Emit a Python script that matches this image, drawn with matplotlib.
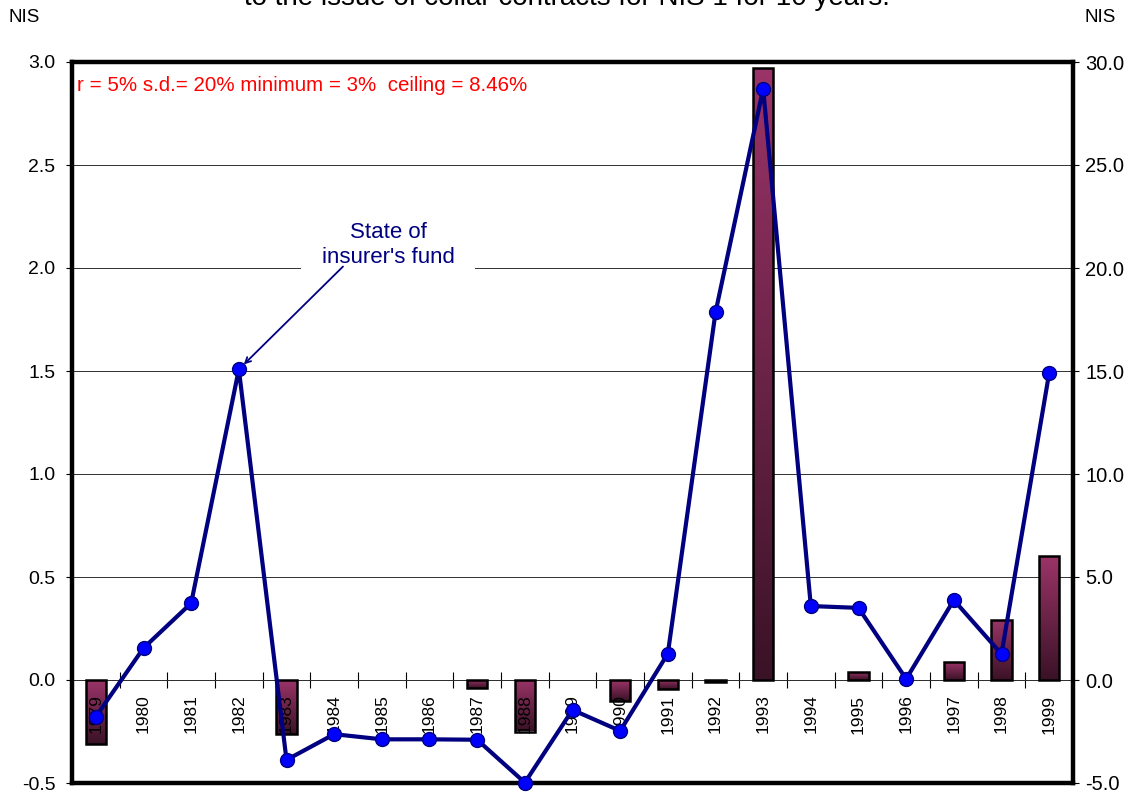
import numpy as np
import matplotlib
matplotlib.use('Agg')
import matplotlib.pyplot as plt
from matplotlib.colors import LinearSegmentedColormap
from matplotlib.ticker import FormatStrFormatter

plt.rcParams['font.family'] = ['Liberation Sans', 'DejaVu Sans']

years = [str(y) for y in range(1979, 2000)]
# yearly result, left axis (NIS)
bar_vals = [-0.31, 0, 0, 0, -0.26, 0, 0, 0, -0.04, -0.25, 0, -0.10, -0.045,
            -0.01, 2.97, 0, 0.04, 0, 0.085, 0.29, 0.60]
# state of insurer's fund, right axis (NIS)
fund = [-1.78, 1.55, 3.73, 15.08, -3.88, -2.63, -2.88, -2.88, -2.90, -4.98,
        -1.45, -2.47, 1.28, 17.84, 28.7, 3.59, 3.5, 0.05, 3.88, 1.26, 14.9]

x = np.arange(len(years))

fig = plt.figure(figsize=(11.34, 7.95), dpi=100)
ax = fig.add_axes([72 / 1134, 12 / 795, 1001 / 1134, 721 / 795])
ax2 = ax.twinx()

# bars with a vertical maroon gradient
cmap = LinearSegmentedColormap.from_list('maroon', ['#3a1226', '#9b3468'])
grad = np.linspace(0, 1, 256).reshape(-1, 1)
bars = ax.bar(x, bar_vals, width=0.42, facecolor='none', edgecolor='black',
              linewidth=1.8, zorder=3)
for b in bars:
    h = b.get_height()
    if h == 0:
        b.set_visible(False)
        continue
    lo, hi = min(b.get_y(), b.get_y() + h), max(b.get_y(), b.get_y() + h)
    im = ax.imshow(grad, cmap=cmap, aspect='auto', origin='lower',
                   extent=[b.get_x(), b.get_x() + b.get_width(), lo, hi], zorder=2)
    im.set_clip_path(b)

ax.set_xlim(-0.5, len(years) - 0.5)
ax.set_ylim(-0.5, 3.0)
ax.set_yticks(np.arange(-0.5, 3.01, 0.5))
ax.yaxis.set_major_formatter(FormatStrFormatter('%.1f'))
ax.yaxis.grid(True, color='#303030', lw=0.7)
ax.set_axisbelow(True)
for s in ['top', 'right', 'left']:
    ax.spines[s].set_visible(False)
ax.spines['bottom'].set_position(('data', 0))
ax.spines['bottom'].set_color('#303030')
ax.spines['bottom'].set_linewidth(0.7)
ax.set_xticks(np.arange(0.5, len(years) - 1, 1))
ax.set_xticklabels([])
ax.tick_params(axis='x', direction='inout', length=12, width=0.8)
ax.tick_params(axis='y', direction='out', length=4, width=0.8, labelsize=14, pad=8)

for i, yr in enumerate(years):
    ax.annotate(yr, (i, 0), xytext=(0, -10.5), textcoords='offset points',
                rotation=90, ha='center', va='top', fontsize=12.5, zorder=4)

ax.text(0.005, 0.968, 'r = 5% s.d.= 20% minimum = 3%  ceiling = 8.46%',
        transform=ax.transAxes, color='red', fontsize=14.8, va='center')

# fund line on the right axis
ax2.plot(x, fund, color='#000080', lw=3, marker='o', ms=10, mfc='#0000ff',
         mec='#000080', mew=1, zorder=5, clip_on=False)
ax2.set_ylim(-5, 30)
ax2.set_yticks(np.arange(-5, 30.1, 5))
ax2.yaxis.set_major_formatter(FormatStrFormatter('%.1f'))
ax2.tick_params(axis='y', direction='out', length=4, width=0.8, labelsize=14.5, pad=5)
for s in ax2.spines.values():
    s.set_linewidth(3.2)
    s.set_color('black')

ax2.text(6.13, 21.13, "State of\ninsurer's fund", ha='center', va='center',
         color='#000080', fontsize=16, linespacing=1.25, zorder=3,
         bbox=dict(fc='white', ec='none', pad=15))
ax2.annotate('', xy=(3, 15.08), xytext=(5.185, 20.07),
             arrowprops=dict(arrowstyle='->', color='#000080', lw=1.3,
                             shrinkA=0, shrinkB=5), zorder=4)

fig.text(8 / 1134, 1 - 18 / 795, 'NIS', fontsize=13.5, va='center')
fig.text(1085 / 1134, 1 - 18 / 795, 'NIS', fontsize=13.5, va='center')
fig.text(0.5, 1 - 5 / 795, 'to the issue of collar contracts for NIS 1 for 10 years.',
         ha='center', va='baseline', fontsize=20)

fig.savefig('out.png', dpi=100)
